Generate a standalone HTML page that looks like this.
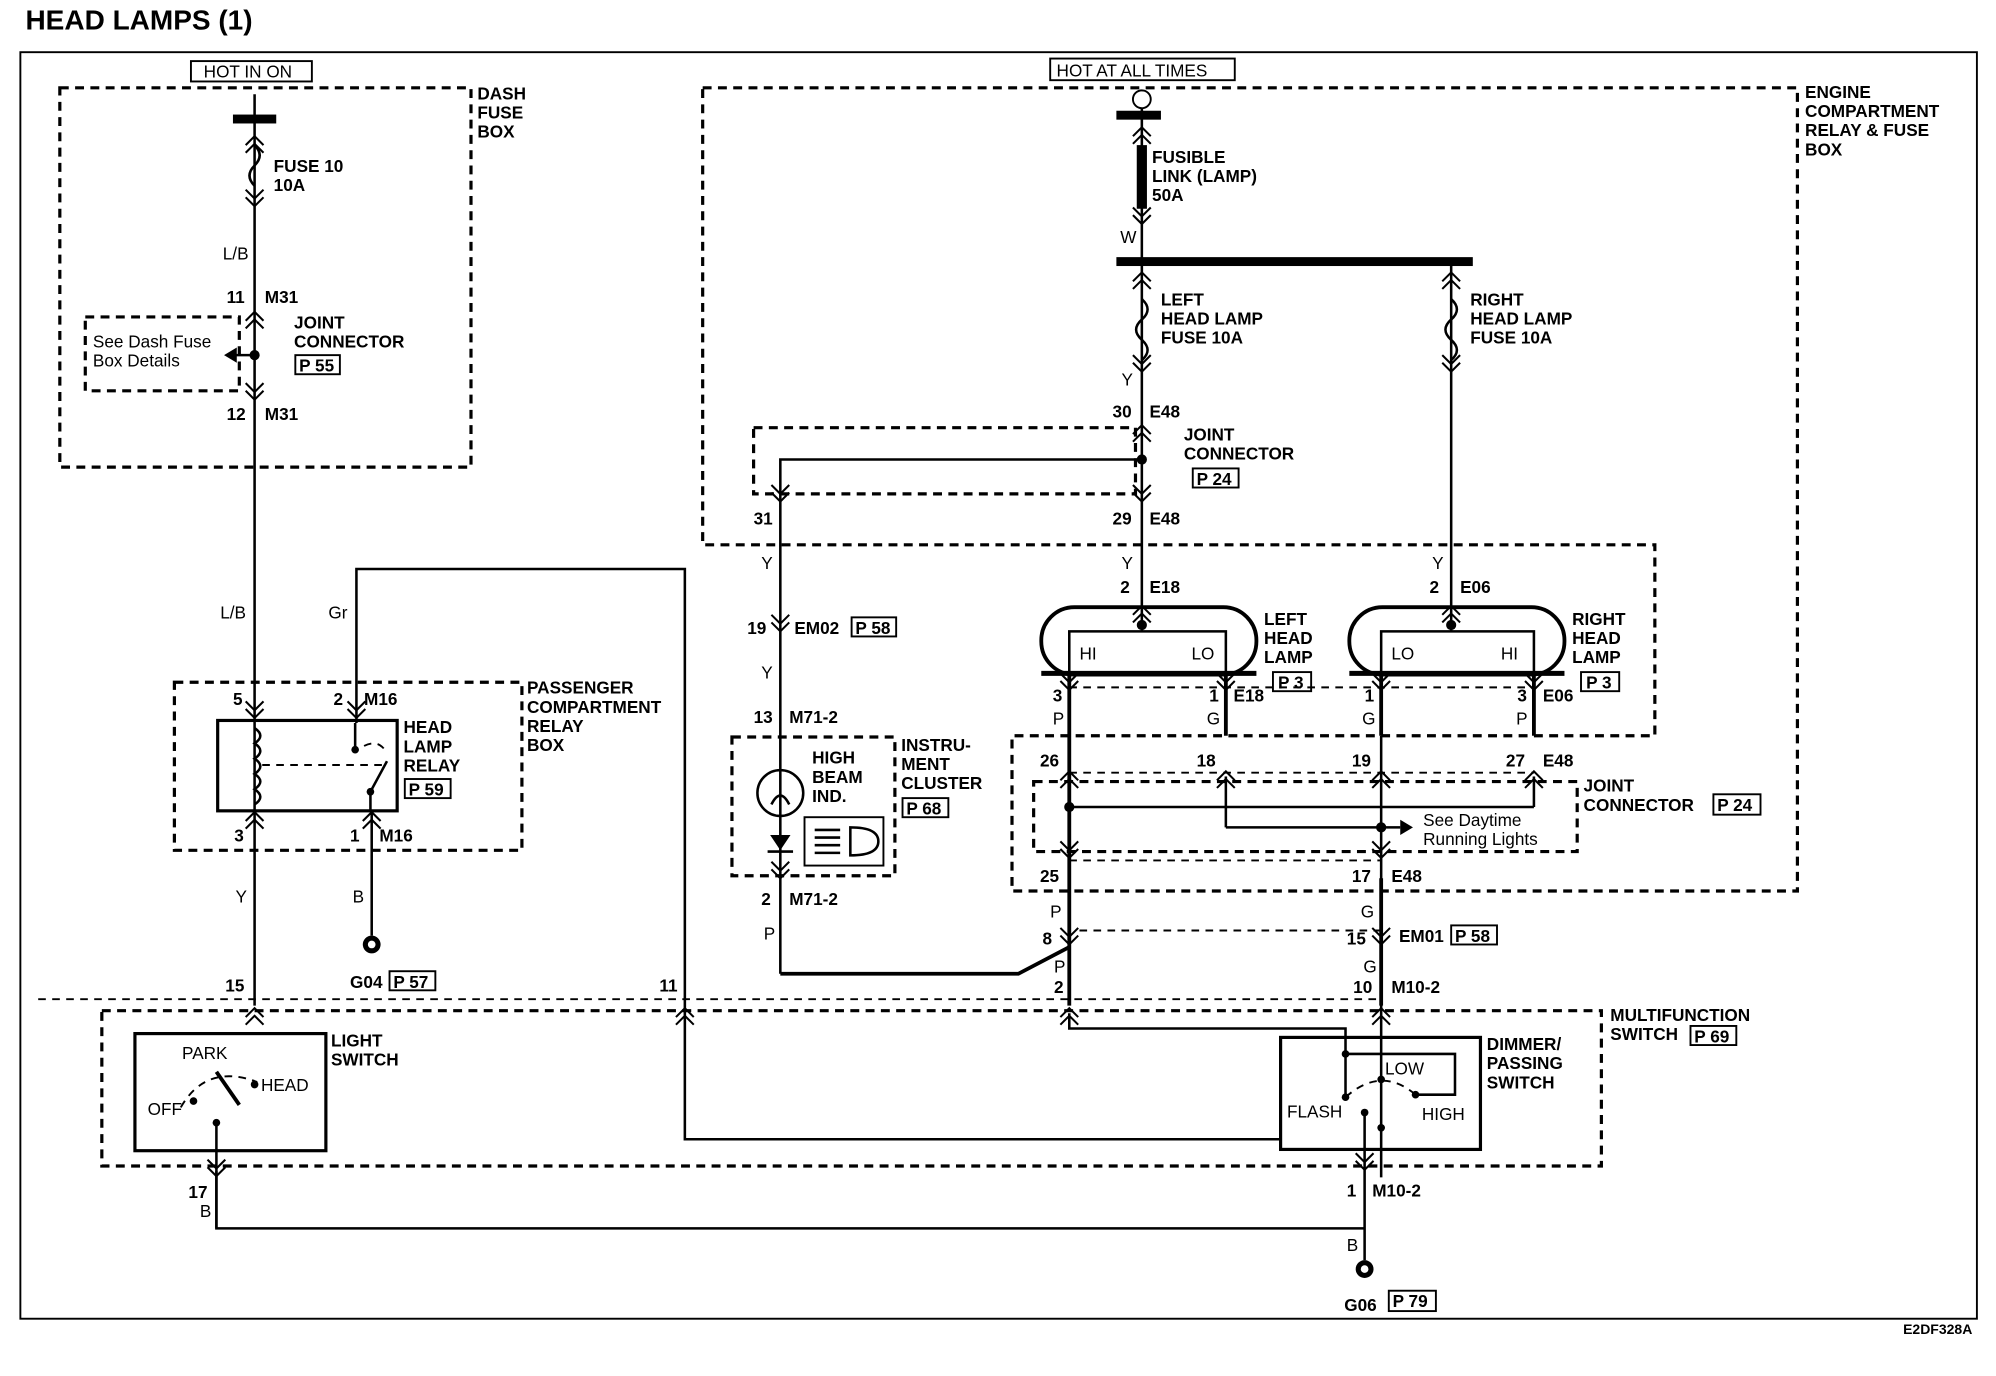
<!DOCTYPE html>
<html><head><meta charset="utf-8"><style>
html,body{margin:0;padding:0;background:#fff;width:1996px;height:1376px;overflow:hidden}
svg{display:block}
text{font-family:"Liberation Sans",Arial,sans-serif;font-weight:bold;font-size:13.5px;fill:#000}
.n{font-weight:normal}
.w{stroke:#000;stroke-width:2;fill:none}
.t{stroke:#000;stroke-width:3;fill:none}
.d{stroke:#000;stroke-width:2.5;fill:none;stroke-dasharray:7,5}
.dt{stroke:#000;stroke-width:1.5;fill:none;stroke-dasharray:6,5}
.b{stroke:#000;stroke-width:1.5;fill:#fff}
.c{stroke:#000;stroke-width:1.6;fill:none}
</style></head><body>
<svg width="1996" height="1376" viewBox="0 0 1568 1081" preserveAspectRatio="none" xmlns="http://www.w3.org/2000/svg">
<defs>
<g id="cd"><path class="c" d="M-7,-9 L0,-2 L7,-9 M-7,-3 L0,4 L7,-3"/></g>
<g id="cu"><path class="c" d="M-7,9 L0,2 L7,9 M-7,3 L0,-4 L7,3"/></g>
</defs>
<text x="20" y="23" style="font-size:22px">HEAD LAMPS (1)</text>
<rect x="16" y="41" width="1537" height="995" class="w" style="stroke-width:1.5"/>
<text x="1495" y="1048" style="font-size:11px">E2DF328A</text>

<!-- Dash fuse box -->
<rect x="47" y="69" width="323" height="298" class="d"/>
<text x="375" y="78">DASH</text><text x="375" y="93">FUSE</text><text x="375" y="108">BOX</text>
<rect x="150" y="48" width="95" height="16" class="b"/>
<text x="160" y="61" class="n">HOT IN ON</text>
<rect x="183" y="90" width="34" height="7" fill="#000"/>
<line x1="200" y1="74" x2="200" y2="790" class="w"/>
<path class="w" d="M200,114 q8,8 0,16 q-8,8 0,16" fill="#fff" stroke-width="2"/>
<use href="#cu" x="200" y="111"/><use href="#cd" x="200" y="158"/>
<text x="215" y="135">FUSE 10</text><text x="215" y="150">10A</text>
<text x="175" y="204" class="n">L/B</text>
<text x="178" y="238">11</text><text x="208" y="238">M31</text>
<use href="#cu" x="200" y="249"/>
<rect x="67" y="249" width="121" height="58" class="d"/>
<circle cx="200" cy="279" r="4"/>
<line x1="200" y1="279" x2="180" y2="279" class="w"/><path d="M176,279 L186,273 L186,285 Z"/>
<text x="73" y="273" class="n">See Dash Fuse</text><text x="73" y="288" class="n">Box Details</text>
<text x="231" y="258">JOINT</text><text x="231" y="273">CONNECTOR</text>
<rect x="232" y="279" width="35" height="15" class="b"/><text x="235" y="292">P 55</text>
<use href="#cd" x="200" y="310"/>
<text x="178" y="330">12</text><text x="208" y="330">M31</text>
<text x="173" y="486" class="n">L/B</text>
<text x="258" y="486" class="n">Gr</text>

<!-- Passenger relay box -->
<rect x="137" y="536" width="273" height="132" class="d"/>
<text x="414" y="545">PASSENGER</text><text x="414" y="560">COMPARTMENT</text><text x="414" y="575">RELAY</text><text x="414" y="590">BOX</text>
<polyline points="280,568 280,447 538,447 538,895 1005,895" class="w"/>
<text x="183" y="554">5</text><text x="262" y="554">2</text><text x="286" y="554">M16</text>
<use href="#cd" x="200" y="560"/><use href="#cd" x="280" y="560"/>
<rect x="171" y="566" width="141" height="71" class="w" style="stroke-width:2.5"/>
<path class="w" d="M200,572 q9,6 0,12 q9,6 0,12 q9,6 0,12 q9,6 0,12 q9,6 0,12"/>
<line x1="206" y1="601" x2="300" y2="601" class="dt"/>
<circle cx="279" cy="589" r="3"/><circle cx="291" cy="622" r="3"/>
<path class="w" d="M279,589 L279,568 M291,622 L304,598 M291,622 L291,637"/>
<path d="M286,586 q12,-6 18,6" class="dt"/>
<text x="317" y="576">HEAD</text><text x="317" y="591">LAMP</text><text x="317" y="606">RELAY</text>
<rect x="318" y="612" width="36" height="15" class="b"/><text x="321" y="625">P 59</text>
<use href="#cu" x="200" y="642"/><use href="#cu" x="292" y="642"/>
<text x="184" y="661">3</text><text x="275" y="661">1</text><text x="298" y="661">M16</text>
<line x1="292" y1="637" x2="292" y2="735" class="w"/>
<text x="185" y="709" class="n">Y</text><text x="277" y="709" class="n">B</text>
<circle cx="292" cy="742" r="7" fill="#000"/><circle cx="292" cy="742" r="3" fill="#fff"/>
<text x="275" y="776">G04</text>
<rect x="306" y="763" width="36" height="15" class="b"/><text x="309" y="776">P 57</text>
<text x="177" y="779">15</text><text x="518" y="779">11</text>
<use href="#cu" x="200" y="796"/><use href="#cu" x="538" y="796"/>

<!-- Multifunction -->
<rect x="80" y="794" width="1178" height="122" class="d"/>
<text x="1265" y="802">MULTIFUNCTION</text><text x="1265" y="817">SWITCH</text>
<rect x="1328" y="806" width="36" height="15" class="b"/><text x="1331" y="819">P 69</text>
<rect x="106" y="812" width="150" height="92" class="w" style="stroke-width:2.5"/>
<text x="143" y="832" class="n">PARK</text><text x="205" y="857" class="n">HEAD</text><text x="116" y="876" class="n">OFF</text>
<text x="260" y="822">LIGHT</text><text x="260" y="837">SWITCH</text>
<path class="t" d="M170,842 L188,868" stroke-width="4"/>
<circle cx="200" cy="852" r="3"/><circle cx="170" cy="882" r="3"/><circle cx="152" cy="865" r="3"/>
<line x1="170" y1="882" x2="170" y2="965" class="w"/>
<path d="M142,870 q20,-35 60,-20" class="dt"/>
<use href="#cd" x="170" y="920"/>
<text x="148" y="941">17</text><text x="157" y="956" class="n">B</text>
<polyline points="170,920 170,965 1072,965" class="w"/>

<!-- Engine compartment box -->
<path d="M552,69 L1412,69 L1412,700 L795,700 L795,578 L1300,578 L1300,428 L552,428 Z" class="d"/>
<text x="1418" y="77">ENGINE</text><text x="1418" y="92">COMPARTMENT</text><text x="1418" y="107">RELAY &amp; FUSE</text><text x="1418" y="122">BOX</text>
<rect x="825" y="46" width="145" height="17" class="b"/><text x="830" y="60" class="n">HOT AT ALL TIMES</text>
<circle cx="897" cy="78" r="7" class="b"/>
<rect x="877" y="87" width="35" height="7" fill="#000"/>
<line x1="897" y1="85" x2="897" y2="491" class="w"/>
<use href="#cu" x="897" y="104"/>
<rect x="893" y="114" width="8" height="50" fill="#000"/>
<use href="#cd" x="897" y="172"/>
<text x="905" y="128">FUSIBLE</text><text x="905" y="143">LINK (LAMP)</text><text x="905" y="158">50A</text>
<text x="880" y="191" class="n">W</text>
<rect x="877" y="202" width="280" height="7" fill="#000"/>
<line x1="1140" y1="206" x2="1140" y2="490" class="w"/>
<use href="#cu" x="897" y="218"/><use href="#cu" x="1140" y="218"/>
<path class="w" fill="#fff" d="M897,235 q9,8 0,16 q-9,8 0,16 q9,8 0,16"/>
<path class="w" fill="#fff" d="M1140,235 q9,8 0,16 q-9,8 0,16 q9,8 0,16"/>
<use href="#cd" x="897" y="288"/><use href="#cd" x="1140" y="288"/>
<text x="912" y="240">LEFT</text><text x="912" y="255">HEAD LAMP</text><text x="912" y="270">FUSE 10A</text>
<text x="1155" y="240">RIGHT</text><text x="1155" y="255">HEAD LAMP</text><text x="1155" y="270">FUSE 10A</text>
<text x="881" y="303" class="n">Y</text>
<text x="874" y="328">30</text><text x="903" y="328">E48</text>
<use href="#cu" x="897" y="338"/>
<rect x="592" y="336" width="300" height="52" class="d"/>
<text x="930" y="346">JOINT</text><text x="930" y="361">CONNECTOR</text>
<rect x="937" y="368" width="36" height="15" class="b"/><text x="940" y="381">P 24</text>
<circle cx="897" cy="361" r="4"/>
<polyline points="897,361 613,361 613,690" class="w"/>
<use href="#cd" x="613" y="390"/><use href="#cd" x="897" y="390"/>
<text x="592" y="412">31</text><text x="874" y="412">29</text><text x="903" y="412">E48</text>
<text x="598" y="447" class="n">Y</text><text x="881" y="447" class="n">Y</text><text x="1125" y="447" class="n">Y</text>
<text x="880" y="466">2</text><text x="903" y="466">E18</text>
<text x="1123" y="466">2</text><text x="1147" y="466">E06</text>
<use href="#cd" x="613" y="492"/>
<text x="587" y="498">19</text><text x="624" y="498">EM02</text>
<rect x="669" y="485" width="35" height="15" class="b"/><text x="672" y="498">P 58</text>
<text x="598" y="533" class="n">Y</text>
<text x="592" y="568">13</text><text x="620" y="568">M71-2</text>

<!-- Lamps -->
<use href="#cu" x="897" y="480"/><use href="#cu" x="1140" y="480"/>
<rect x="818" y="477" width="169" height="53" rx="26" class="t"/>
<rect x="1060" y="477" width="169" height="53" rx="26" class="t"/>
<line x1="818" y1="529" x2="987" y2="529" stroke="#000" stroke-width="4"/>
<line x1="1060" y1="529" x2="1229" y2="529" stroke="#000" stroke-width="4"/>
<circle cx="897" cy="491" r="4"/><circle cx="1140" cy="491" r="4"/>
<path class="w" d="M897,491 L897,496 M840,530 L840,496 L963,496 L963,530 M1085,530 L1085,496 L1205,496 L1205,530 M1140,491 L1140,496"/>
<text x="848" y="518" class="n">HI</text><text x="936" y="518" class="n">LO</text>
<text x="1093" y="518" class="n">LO</text><text x="1179" y="518" class="n">HI</text>
<text x="993" y="491">LEFT</text><text x="993" y="506">HEAD</text><text x="993" y="521">LAMP</text>
<rect x="1000" y="528" width="30" height="15" class="b"/><text x="1004" y="541">P 3</text>
<text x="1235" y="491">RIGHT</text><text x="1235" y="506">HEAD</text><text x="1235" y="521">LAMP</text>
<rect x="1242" y="528" width="30" height="15" class="b"/><text x="1246" y="541">P 3</text>
<use href="#cd" x="840" y="538"/><use href="#cd" x="963" y="538"/><use href="#cd" x="1085" y="538"/><use href="#cd" x="1205" y="538"/>
<line x1="840" y1="540" x2="1205" y2="540" class="dt"/>
<text x="827" y="551">3</text><text x="950" y="551">1</text><text x="969" y="551">E18</text>
<text x="1072" y="551">1</text><text x="1192" y="551">3</text><text x="1212" y="551">E06</text>
<text x="827" y="569" class="n">P</text><text x="948" y="569" class="n">G</text><text x="1070" y="569" class="n">G</text><text x="1191" y="569" class="n">P</text>
<line x1="840" y1="530" x2="840" y2="790" class="t"/>
<line x1="963" y1="530" x2="963" y2="578" class="t"/>
<line x1="1085" y1="530" x2="1085" y2="578" class="t"/>
<line x1="1205" y1="530" x2="1205" y2="578" class="t"/>
<line x1="1085" y1="578" x2="1085" y2="925" class="w"/>
<line x1="1085" y1="690" x2="1085" y2="790" class="t"/>
<text x="817" y="602">26</text><text x="940" y="602">18</text><text x="1062" y="602">19</text><text x="1183" y="602">27</text><text x="1212" y="602">E48</text>
<use href="#cu" x="840" y="610"/><use href="#cu" x="963" y="610"/><use href="#cu" x="1085" y="610"/><use href="#cu" x="1205" y="610"/>
<line x1="840" y1="607" x2="1205" y2="607" class="dt"/>
<rect x="812" y="614" width="427" height="55" class="d"/>
<text x="1244" y="622">JOINT</text><text x="1244" y="637">CONNECTOR</text>
<rect x="1346" y="624" width="37" height="16" class="b"/><text x="1349" y="637">P 24</text>
<line x1="963" y1="610" x2="963" y2="650" class="w"/><line x1="1205" y1="610" x2="1205" y2="634" class="w"/>
<circle cx="840" cy="634" r="4"/><line x1="840" y1="634" x2="1205" y2="634" class="w"/>
<polyline points="963,650 1100,650" class="w"/><circle cx="1085" cy="650" r="4"/>
<path d="M1110,650 L1100,644 L1100,656 Z"/>
<text x="1118" y="649" class="n">See Daytime</text><text x="1118" y="664" class="n">Running Lights</text>
<use href="#cd" x="840" y="670"/><use href="#cd" x="1085" y="670"/>
<line x1="840" y1="676" x2="1085" y2="676" class="dt"/>
<text x="817" y="693">25</text><text x="1062" y="693">17</text><text x="1093" y="693">E48</text>
<text x="825" y="721" class="n">P</text><text x="1069" y="721" class="n">G</text>
<use href="#cd" x="840" y="738"/><use href="#cd" x="1085" y="738"/>
<line x1="848" y1="731" x2="1085" y2="731" class="dt"/>
<text x="819" y="742">8</text><text x="1058" y="742">15</text><text x="1099" y="740">EM01</text>
<rect x="1140" y="727" width="36" height="15" class="b"/><text x="1143" y="740">P 58</text>
<text x="828" y="764" class="n">P</text><text x="1071" y="764" class="n">G</text>
<text x="828" y="780">2</text><text x="1063" y="780">10</text><text x="1093" y="780">M10-2</text>
<line x1="613" y1="690" x2="613" y2="765" class="w"/>
<polyline points="613,765 800,765 840,744" class="t"/>
<line x1="30" y1="785" x2="1085" y2="785" class="dt"/>
<use href="#cu" x="840" y="796"/><use href="#cu" x="1085" y="796"/>

<!-- Instrument cluster -->
<rect x="575" y="579" width="128" height="109" class="d"/>
<circle cx="613" cy="623" r="18" class="w"/>
<path class="w" d="M606,632 q7,-14 14,0"/>
<path d="M605,656 L621,656 L613,668 Z"/><line x1="603" y1="669" x2="623" y2="669" class="w"/>
<rect x="632" y="642" width="62" height="38" class="w" style="stroke-width:1.5"/>
<path class="w" d="M668,650 q22,0 22,11 q0,11 -22,11 Z M640,652 h20 M640,658 h20 M640,664 h20 M640,670 h20"/>
<text x="638" y="600">HIGH</text><text x="638" y="615">BEAM</text><text x="638" y="630">IND.</text>
<text x="708" y="590">INSTRU-</text><text x="708" y="605">MENT</text><text x="708" y="620">CLUSTER</text>
<rect x="709" y="627" width="36" height="15" class="b"/><text x="712" y="640">P 68</text>
<use href="#cd" x="613" y="686"/>
<text x="598" y="711">2</text><text x="620" y="711">M71-2</text>
<text x="600" y="738" class="n">P</text>

<!-- Dimmer -->
<rect x="1006" y="815" width="157" height="88" class="w" style="stroke-width:2.5"/>
<text x="1168" y="825">DIMMER/</text><text x="1168" y="840">PASSING</text><text x="1168" y="855">SWITCH</text>
<polyline points="840,796 840,808 1057,808 1057,860" class="w"/>
<circle cx="1057" cy="828" r="3"/>
<polyline points="1057,828 1143,828 1143,860 1112,860" class="w"/>
<circle cx="1112" cy="860" r="3"/>
<circle cx="1085" cy="848" r="3"/>
<path class="dt" d="M1057,862 q28,-25 55,-2"/>
<circle cx="1057" cy="862" r="3"/><circle cx="1072" cy="874" r="3"/><circle cx="1085" cy="886" r="3"/>
<line x1="1072" y1="874" x2="1072" y2="990" class="w"/>
<text x="1088" y="844" class="n">LOW</text><text x="1011" y="878" class="n">FLASH</text><text x="1117" y="880" class="n">HIGH</text>
<use href="#cd" x="1072" y="915"/>
<text x="1058" y="940">1</text><text x="1078" y="940">M10-2</text>
<text x="1058" y="983" class="n">B</text>
<circle cx="1072" cy="997" r="7" fill="#000"/><circle cx="1072" cy="997" r="3" fill="#fff"/>
<text x="1056" y="1030">G06</text>
<rect x="1091" y="1014" width="37" height="16" class="b"/><text x="1094" y="1027">P 79</text>
</svg>
</body></html>
